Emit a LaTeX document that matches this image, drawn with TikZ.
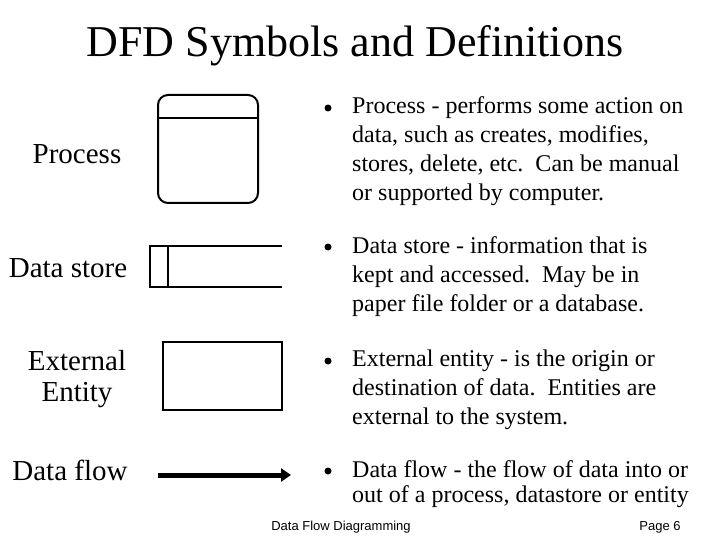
\documentclass[tikz,border=0pt]{standalone}
\usepackage{fontspec}
\setmainfont{Liberation Serif}
\usetikzlibrary{arrows.meta}
\begin{document}
\begin{tikzpicture}[x=1pt,y=-1pt,
  sym/.style={line width=2pt},
  lab/.style={font=\fontsize{29}{31}\selectfont,align=center},
  dot/.style={circle,fill,inner sep=0pt,minimum size=7pt},
  bul/.style={anchor=north west,font=\fontsize{24}{29}\selectfont,align=left,inner sep=0pt}]
\useasboundingbox[fill=white] (0,0) rectangle (720,540);
\node[font=\fontsize{44}{48}\selectfont] (title) at (355,46) {DFD Symbols and Definitions};
% process
\draw[sym,rounded corners=10pt] (158,95) rectangle (258,203);
\draw[sym] (158,118) -- (258,118);
\node[lab] (lp) at (77,154) {Process};
% data store
\draw[sym] (282,246) -- (150,246) -- (150,287) -- (282,287);
\draw[sym] (168,246) -- (168,287);
\node[lab] (ld) at (68,268) {Data store};
% external entity
\draw[sym] (163,342) rectangle (282,410);
\node[lab] (le) at (77,379) {External\\Entity};
% data flow
\coordinate (fa) at (158,475);
\coordinate (fb) at (291,475);
\draw[line width=5pt,-{Triangle[length=10pt,width=13pt]}] (fa) -- (fb);
\node[lab] (lf) at (70,470) {Data flow};
% bullets
\node[dot] (b1) at (328,108) {};
\node[bul] (t1) at (352,96) {Process - performs some action on\\data, such as creates, modifies,\\stores, delete, etc.\ \ Can be manual\\or supported by computer.};
\node[dot] (b2) at (328,247) {};
\node[bul] (t2) at (352,236) {Data store - information that is\\kept and accessed.\ \ May be in\\paper file folder or a database.};
\node[dot] (b3) at (328,361) {};
\node[bul] (t3) at (352,350) {External entity - is the origin or\\destination of data.\ \ Entities are\\external to the system.};
\node[dot] (b4) at (328,471) {};
\node[bul,font=\fontsize{24}{25}\selectfont] (t4) at (352,460) {Data flow - the flow of data into or\\out of a process, datastore or entity};
% footer
\node[font=\fontsize{13}{15}\selectfont\fontspec{Liberation Sans}] (foot) at (341,527) {Data Flow Diagramming};
\node[font=\fontsize{13}{15}\selectfont\fontspec{Liberation Sans}] (page) at (660,527) {Page 6};
\end{tikzpicture}
\end{document}
